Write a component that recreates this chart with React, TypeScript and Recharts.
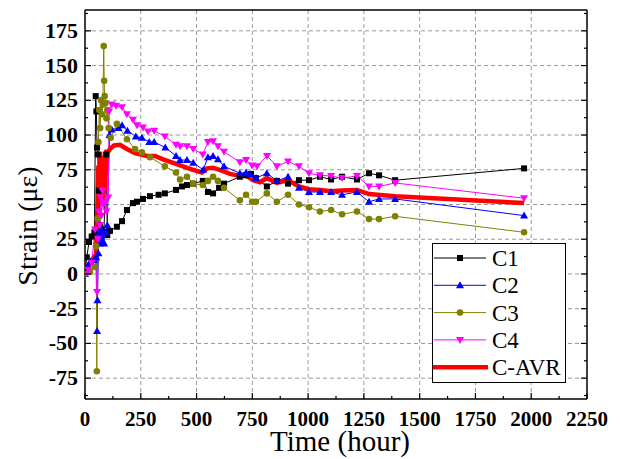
import { LineChart, Line, XAxis, YAxis, CartesianGrid, Legend } from 'recharts';

// strain readings [hour, µε]
const C1 = [
  [0, 2], [8, 12], [18, 23], [30, 27], [42, 30], [48, 128], [51, 117], [54, 91], [57, 86], [62, 60],
  [68, 35], [75, 32], [85, 30], [95, 86], [100, 28], [112, 31], [143, 34], [166, 38], [188, 46],
  [215, 51], [233, 52], [260, 54], [291, 56], [330, 57], [358, 58], [408, 60.5], [435, 63], [457, 64],
  [485, 65], [528, 67], [551, 59], [574, 58], [601, 62], [623, 65], [694, 70], [722, 71], [744, 72],
  [766, 69], [815, 63], [860, 67], [910, 65], [959, 67.5], [1004, 67.5], [1053, 70], [1103, 68],
  [1152, 70], [1219, 68], [1273, 72.5], [1318, 71], [1390, 67.5], [1968, 76],
];
const C2 = [
  [0, 0], [12, 6], [25, 9], [40, 10], [50, 12], [54, -41], [56, -19], [60, 15], [64, 30], [68, 22],
  [72, 32], [76, 24], [80, 28], [86, 22], [92, 30], [100, 35], [110, 100], [120, 104], [150, 105],
  [166, 107], [190, 103], [228, 99], [255, 98], [288, 95], [310, 95], [360, 91], [408, 85], [426, 82],
  [457, 82], [485, 80], [530, 75], [551, 84], [574, 85], [596, 82.5], [623, 77.5], [694, 72.5],
  [722, 73], [740, 72], [766, 69], [815, 72.5], [860, 67], [910, 70], [959, 62], [1004, 59],
  [1053, 59], [1103, 59], [1152, 57], [1219, 59], [1273, 52], [1318, 54], [1390, 54], [1968, 42],
];
const C3 = [
  [0, 0], [22, 1.5], [45, 5], [50, 20], [53, -70], [56, 40], [60, 95], [64, 118], [68, 105], [72, 125],
  [76, 115], [80, 122], [84, 164], [86, 139], [88, 128], [92, 123], [96, 112], [100, 118], [106, 105],
  [115, 98], [143, 108], [188, 97], [224, 90], [255, 87.5], [291, 84], [358, 77.5], [408, 73],
  [426, 68], [457, 70], [485, 65], [528, 64], [551, 67], [574, 70], [596, 67], [623, 62], [694, 53],
  [722, 57], [749, 52], [766, 52], [815, 58], [860, 52], [910, 57], [959, 50], [1004, 48], [1053, 45],
  [1103, 46], [1152, 43], [1219, 45], [1273, 39.5], [1318, 39.5], [1390, 41.5], [1968, 30],
];
const C4 = [
  [0, 0], [15, 3], [30, 8], [45, 32], [54, -13], [58, 25], [62, 45], [66, 35], [70, 55], [74, 42],
  [78, 60], [82, 50], [88, 52], [96, 45], [104, 55], [108, 117], [120, 122], [139, 121], [166, 120],
  [188, 115], [215, 111], [233, 107], [260, 105.5], [282, 102.5], [310, 103], [358, 99], [408, 93],
  [426, 92], [457, 92], [485, 90], [528, 86], [551, 95], [574, 95.5], [596, 92], [623, 88], [694, 80.5],
  [722, 82], [749, 78], [771, 77.5], [816, 85], [860, 77.5], [910, 81], [959, 77.5], [1004, 72.5],
  [1053, 71], [1103, 70.5], [1152, 69], [1219, 70.5], [1273, 63], [1318, 63], [1390, 65.5], [1968, 54.5],
];
const CAVR = [
  [0, -2], [10, 4], [25, 9], [40, 12], [50, 14], [55, 45], [60, 78], [64, 55], [68, 88], [72, 65],
  [76, 83], [80, 50], [84, 85], [90, 60], [96, 88], [104, 88], [112, 90], [130, 92.5], [157, 93],
  [188, 90], [224, 87], [278, 85], [314, 85], [350, 82.5], [395, 80], [439, 77.5], [484, 75],
  [524, 73], [547, 76], [574, 76.5], [619, 74], [650, 72], [694, 70.5], [722, 71], [753, 67.5],
  [784, 66], [815, 69], [860, 65.5], [910, 67.5], [959, 63], [1004, 61], [1053, 60.5], [1103, 59.5],
  [1152, 60], [1219, 60.5], [1273, 57.5], [1390, 56], [1968, 51],
];

const xMajor = [0, 250, 500, 750, 1000, 1250, 1500, 1750, 2000, 2250];
const xMinor = [125, 375, 625, 875, 1125, 1375, 1625, 1875, 2125];
const yMajor = [-75, -50, -25, 0, 25, 50, 75, 100, 125, 150, 175];
const yMinor = [-87.5, -62.5, -37.5, -12.5, 12.5, 37.5, 62.5, 87.5, 112.5, 137.5, 162.5, 187.5];

const FONT = '"Liberation Serif"';

const toPts = (arr: number[][]) => arr.map(([x, y]) => ({ x, y }));

const square = (color: string) => (p: any) => (
  <rect key={p.index} x={p.cx - 3} y={p.cy - 3} width={6} height={6} fill={color} />
);
const triUp = (color: string) => (p: any) => (
  <path key={p.index} d={`M${p.cx},${p.cy - 4}L${p.cx + 4},${p.cy + 3}L${p.cx - 4},${p.cy + 3}Z`} fill={color} />
);
const triDown = (color: string) => (p: any) => (
  <path key={p.index} d={`M${p.cx},${p.cy + 4}L${p.cx + 4},${p.cy - 3}L${p.cx - 4},${p.cy - 3}Z`} fill={color} />
);
const circle = (color: string) => (p: any) => (
  <circle key={p.index} cx={p.cx} cy={p.cy} r={3.3} fill={color} />
);

const series = [
  { name: 'C1', data: C1, color: '#000000', width: 1, dot: square('#000000') },
  { name: 'C2', data: C2, color: '#0000ff', width: 1, dot: triUp('#0000ff') },
  { name: 'C3', data: C3, color: '#808000', width: 1, dot: circle('#808000') },
  { name: 'C4', data: C4, color: '#ff00ff', width: 1, dot: triDown('#ff00ff') },
  { name: 'C-AVR', data: CAVR, color: '#ff0000', width: 4.5, dot: null },
];

const isMajor = (v: number, list: number[]) => list.includes(v);

const BottomTick = (p: any) => {
  const major = isMajor(p.payload.value, xMajor);
  return (
    <g>
      <line x1={p.x} y1={p.y} x2={p.x} y2={p.y - (major ? 6 : 3)} stroke="#000" strokeWidth={1.2} />
      {major && (
        <text x={p.x} y={p.y + 27} textAnchor="middle" style={{ fontFamily: FONT, fontWeight: 'bold' }} fontSize={21} fill="#000">
          {p.payload.value}
        </text>
      )}
    </g>
  );
};
const TopTick = (p: any) => {
  const major = isMajor(p.payload.value, xMajor);
  return <line x1={p.x} y1={p.y} x2={p.x} y2={p.y + (major ? 6 : 3)} stroke="#000" strokeWidth={1.2} />;
};
const LeftTick = (p: any) => {
  const major = isMajor(p.payload.value, yMajor);
  return (
    <g>
      <line x1={p.x} y1={p.y} x2={p.x + (major ? 6 : 3)} y2={p.y} stroke="#000" strokeWidth={1.2} />
      {major && (
        <text x={p.x - 7} y={p.y + 7} textAnchor="end" style={{ fontFamily: FONT, fontWeight: 'bold' }} fontSize={22} fill="#000">
          {p.payload.value}
        </text>
      )}
    </g>
  );
};
const RightTick = (p: any) => {
  const major = isMajor(p.payload.value, yMajor);
  return <line x1={p.x} y1={p.y} x2={p.x - (major ? 6 : 3)} y2={p.y} stroke="#000" strokeWidth={1.2} />;
};

const renderLegend = () => (
  <svg width={134} height={140} style={{ display: 'block' }}>
    <rect x={0.5} y={0.5} width={133} height={139} fill="#fff" stroke="#000" strokeWidth={1} />
    {series.map((s, i) => {
      const cy = 15 + i * 27.3;
      return (
        <g key={s.name}>
          <line x1={s.dot ? 2 : 1} y1={cy} x2={s.dot ? 54 : 56} y2={cy} stroke={s.color} strokeWidth={s.dot ? 1 : 4.5} />
          {s.dot && s.dot({ cx: 28, cy, index: i })}
          <text x={60} y={cy + 8} style={{ fontFamily: FONT }} fontSize={23} fill="#000">{s.name}</text>
        </g>
      );
    })}
  </svg>
);

export default function App() {
  return (
    <div style={{ position: 'absolute', left: 0, top: 0, width: 621, height: 459, background: '#fff' }}>
      <LineChart width={621} height={459} margin={{ top: 9, right: 33, bottom: 5, left: 25 }}>
        <CartesianGrid
          stroke="#999"
          strokeDasharray="4 3"
          horizontalValues={yMajor.slice(0)}
          verticalValues={xMajor.slice(1, -1)}
        />
        <XAxis
          type="number"
          dataKey="x"
          domain={[0, 2250]}
          ticks={[...xMajor, ...xMinor]}
          interval={0}
          height={55}
          tickLine={false}
          tickSize={0}
          tickMargin={0}
          stroke="#000"
          strokeWidth={1.5}
          tick={BottomTick}
          allowDataOverflow
        />
        <XAxis
          xAxisId="top"
          orientation="top"
          type="number"
          domain={[0, 2250]}
          ticks={[...xMajor, ...xMinor]}
          interval={0}
          height={1}
          tickLine={false}
          tickSize={0}
          tickMargin={0}
          stroke="#000"
          strokeWidth={1.5}
          tick={TopTick}
          allowDataOverflow
        />
        <YAxis
          type="number"
          domain={[-90, 190]}
          ticks={[...yMajor, ...yMinor]}
          interval={0}
          width={60}
          tickLine={false}
          tickSize={0}
          tickMargin={0}
          stroke="#000"
          strokeWidth={1.5}
          tick={LeftTick}
          allowDataOverflow
        />
        <YAxis
          yAxisId="right"
          orientation="right"
          type="number"
          domain={[-90, 190]}
          ticks={[...yMajor, ...yMinor]}
          interval={0}
          width={1}
          tickLine={false}
          tickSize={0}
          tickMargin={0}
          stroke="#000"
          strokeWidth={1.5}
          tick={RightTick}
          allowDataOverflow
        />
        {series.map((s) => (
          <Line
            key={s.name}
            name={s.name}
            data={toPts(s.data)}
            dataKey="y"
            type="linear"
            stroke={s.color}
            strokeWidth={s.width}
            dot={s.dot ?? false}
            activeDot={false}
            isAnimationActive={false}
          />
        ))}
        <Legend
          layout="horizontal"
          verticalAlign="middle"
          content={renderLegend}
          wrapperStyle={{ position: 'absolute', left: 432, top: 243, width: 134, height: 140 }}
        />
        <text x={37} y={226} transform="rotate(-90 37 226)" textAnchor="middle" style={{ fontFamily: FONT }} fontSize={28} fill="#000">
          Strain (με)
        </text>
        <text x={340} y={451} textAnchor="middle" style={{ fontFamily: FONT }} fontSize={29} fill="#000">
          Time (hour)
        </text>
      </LineChart>
    </div>
  );
}
